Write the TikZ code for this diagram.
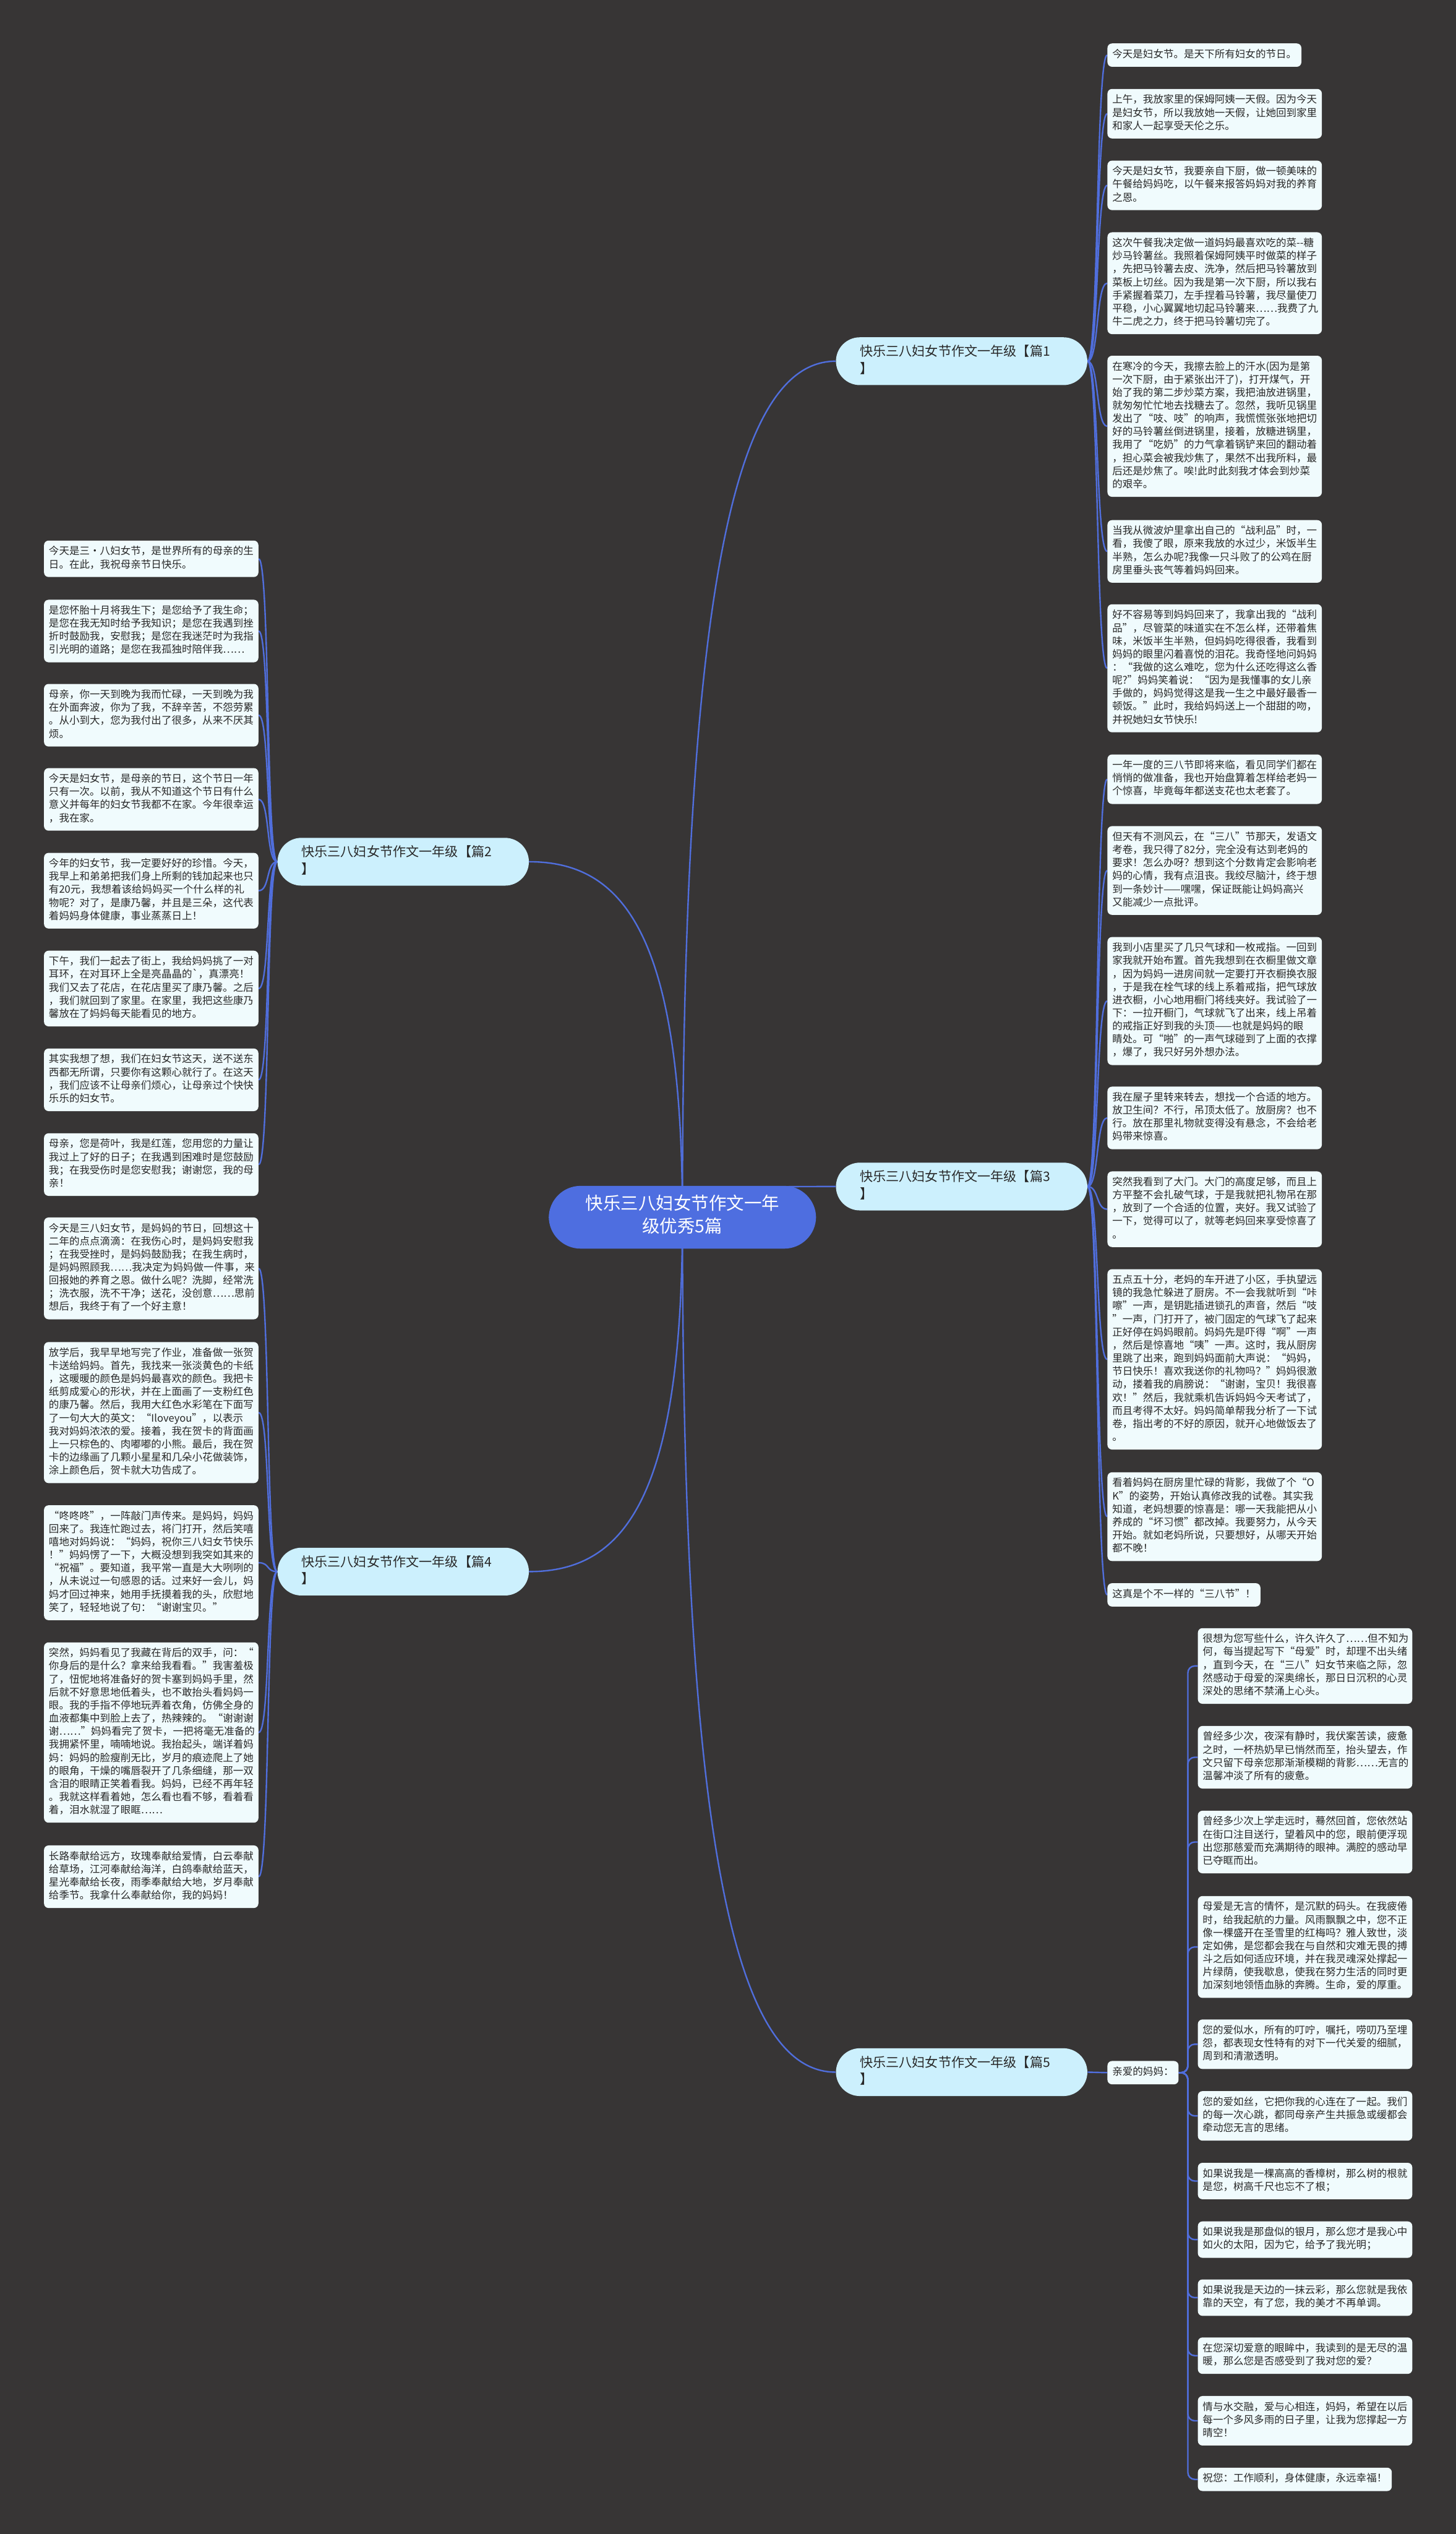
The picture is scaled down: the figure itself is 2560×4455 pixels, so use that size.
\documentclass[tikz,border=0pt]{standalone}
\usepackage{fontspec}
\usepackage{tikz}
\newfontfamily\cjk{Noto Sans CJK SC}

\definecolor{pagebg}{RGB}{55,53,53}
\definecolor{leafbg}{RGB}{240,251,253}
\definecolor{branchbg}{RGB}{204,240,253}
\definecolor{rootbg}{RGB}{78,110,224}
\definecolor{linkblue}{RGB}{80,110,220}
\definecolor{ink}{RGB}{40,40,40}

\newcommand{\leaffont}{\cjk\fontsize{9pt}{11.5pt}\selectfont}
\newcommand{\branchfont}{\cjk\fontsize{11.5pt}{15pt}\selectfont}
\newcommand{\rootfont}{\cjk\fontsize{15.5pt}{20pt}\selectfont}

\pgfdeclarelayer{back}
\pgfsetlayers{back,main}

\tikzset{
  leafbase/.style={fill=leafbg, rounded corners=4pt, anchor=north west,
    inner xsep=4.25pt, inner ysep=4.5pt, font=\leaffont, text=ink,
    execute at begin node=\strut, execute at end node=\strut},
  leaf/.style={leafbase, text width=180pt, align=left},
  tag/.style={leafbase},
  branch/.style={fill=branchbg, rounded corners=21pt, inner xsep=21pt, inner ysep=6pt,
    text width=179pt, align=left, font=\branchfont, text=ink,
    execute at begin node=\strut, execute at end node=\strut},
  root/.style={fill=rootbg, rounded corners=28pt, minimum width=235pt, inner ysep=8pt,
    align=center, font=\rootfont, text=white,
    execute at begin node=\strut, execute at end node=\strut},
  link/.style={draw=linkblue, line width=1.3pt}
}

\begin{document}
\begin{tikzpicture}[x=0.5pt, y=-0.5pt]
\useasboundingbox (0,0) rectangle (2560,4455);

% centre and the five branches
\node[root] (root) at (1200,2140) {快乐三八妇女节作文一年\\级优秀5篇};
\node[branch] (p1) at (1691,635) {快乐三八妇女节作文一年级【篇1\\】};
\node[branch] (p3) at (1691,2086) {快乐三八妇女节作文一年级【篇3\\】};
\node[branch] (p5) at (1691,3643) {快乐三八妇女节作文一年级【篇5\\】};
\node[branch] (p2) at (709,1515) {快乐三八妇女节作文一年级【篇2\\】};
\node[branch] (p4) at (709,2763) {快乐三八妇女节作文一年级【篇4\\】};

% 篇1
\node[tag] (l1a) at (1947,76) {今天是妇女节。是天下所有妇女的节日。};
\node[leaf] (l1b) at (1947,156) {上午，我放家里的保姆阿姨一天假。因为今天\\是妇女节，所以我放她一天假，让她回到家里\\和家人一起享受天伦之乐。};
\node[leaf] (l1c) at (1947,282) {今天是妇女节，我要亲自下厨，做一顿美味的\\午餐给妈妈吃，以午餐来报答妈妈对我的养育\\之恩。};
\node[leaf] (l1d) at (1947,408) {这次午餐我决定做一道妈妈最喜欢吃的菜--糖\\炒马铃薯丝。我照着保姆阿姨平时做菜的样子\\，先把马铃薯去皮、洗净，然后把马铃薯放到\\菜板上切丝。因为我是第一次下厨，所以我右\\手紧握着菜刀，左手捏着马铃薯，我尽量使刀\\平稳，小心翼翼地切起马铃薯来……我费了九\\牛二虎之力，终于把马铃薯切完了。};
\node[leaf] (l1e) at (1947,625) {在寒冷的今天，我擦去脸上的汗水(因为是第\\一次下厨，由于紧张出汗了)，打开煤气，开\\始了我的第二步炒菜方案，我把油放进锅里，\\就匆匆忙忙地去找糖去了。忽然，我听见锅里\\发出了“吱、吱”的响声，我慌慌张张地把切\\好的马铃薯丝倒进锅里，接着，放糖进锅里，\\我用了“吃奶”的力气拿着锅铲来回的翻动着\\，担心菜会被我炒焦了，果然不出我所料，最\\后还是炒焦了。唉!此时此刻我才体会到炒菜\\的艰辛。};
\node[leaf] (l1f) at (1947,914) {当我从微波炉里拿出自己的“战利品”时，一\\看，我傻了眼，原来我放的水过少，米饭半生\\半熟，怎么办呢?我像一只斗败了的公鸡在厨\\房里垂头丧气等着妈妈回来。};
\node[leaf] (l1g) at (1947,1062) {好不容易等到妈妈回来了，我拿出我的“战利\\品”，尽管菜的味道实在不怎么样，还带着焦\\味，米饭半生半熟，但妈妈吃得很香，我看到\\妈妈的眼里闪着喜悦的泪花。我奇怪地问妈妈\\：“我做的这么难吃，您为什么还吃得这么香\\呢?”妈妈笑着说：“因为是我懂事的女儿亲\\手做的，妈妈觉得这是我一生之中最好最香一\\顿饭。”此时，我给妈妈送上一个甜甜的吻，\\并祝她妇女节快乐!};

% 篇3
\node[leaf] (l3a) at (1947,1326) {一年一度的三八节即将来临，看见同学们都在\\悄悄的做准备，我也开始盘算着怎样给老妈一\\个惊喜，毕竟每年都送支花也太老套了。};
\node[leaf] (l3b) at (1947,1452) {但天有不测风云，在“三八”节那天，发语文\\考卷，我只得了82分，完全没有达到老妈的\\要求！怎么办呀？想到这个分数肯定会影响老\\妈的心情，我有点沮丧。我绞尽脑汁，终于想\\到一条妙计——嘿嘿，保证既能让妈妈高兴\\又能减少一点批评。};
\node[leaf] (l3c) at (1947,1647) {我到小店里买了几只气球和一枚戒指。一回到\\家我就开始布置。首先我想到在衣橱里做文章\\，因为妈妈一进房间就一定要打开衣橱换衣服\\，于是我在栓气球的线上系着戒指，把气球放\\进衣橱，小心地用橱门将线夹好。我试验了一\\下：一拉开橱门，气球就飞了出来，线上吊着\\的戒指正好到我的头顶——也就是妈妈的眼\\睛处。可“啪”的一声气球碰到了上面的衣撑\\，爆了，我只好另外想办法。};
\node[leaf] (l3d) at (1947,1910) {我在屋子里转来转去，想找一个合适的地方。\\放卫生间？不行，吊顶太低了。放厨房？也不\\行。放在那里礼物就变得没有悬念，不会给老\\妈带来惊喜。};
\node[leaf] (l3e) at (1947,2059) {突然我看到了大门。大门的高度足够，而且上\\方平整不会扎破气球，于是我就把礼物吊在那\\，放到了一个合适的位置，夹好。我又试验了\\一下，觉得可以了，就等老妈回来享受惊喜了\\。};
\node[leaf] (l3f) at (1947,2231) {五点五十分，老妈的车开进了小区，手执望远\\镜的我急忙躲进了厨房。不一会我就听到“咔\\嚓”一声，是钥匙插进锁孔的声音，然后“吱\\”一声，门打开了，被门固定的气球飞了起来\\正好停在妈妈眼前。妈妈先是吓得“啊”一声\\，然后是惊喜地“咦”一声。这时，我从厨房\\里跳了出来，跑到妈妈面前大声说：“妈妈，\\节日快乐！喜欢我送你的礼物吗？”妈妈很激\\动，搂着我的肩膀说：“谢谢，宝贝！我很喜\\欢！”然后，我就乘机告诉妈妈今天考试了，\\而且考得不太好。妈妈简单帮我分析了一下试\\卷，指出考的不好的原因，就开心地做饭去了\\。};
\node[leaf] (l3g) at (1947,2588) {看着妈妈在厨房里忙碌的背影，我做了个“O\\K”的姿势，开始认真修改我的试卷。其实我\\知道，老妈想要的惊喜是：哪一天我能把从小\\养成的“坏习惯”都改掉。我要努力，从今天\\开始。就如老妈所说，只要想好，从哪天开始\\都不晚！};
\node[tag] (l3h) at (1947,2783) {这真是个不一样的“三八节”！};

% 篇5
\node[tag] (mama) at (1947,3623) {亲爱的妈妈：};
\node[leaf] (l5a) at (2106,2862) {很想为您写些什么，许久许久了……但不知为\\何，每当提起写下“母爱”时，却理不出头绪\\，直到今天，在“三八”妇女节来临之际，忽\\然感动于母爱的深奥绵长，那日日沉积的心灵\\深处的思绪不禁涌上心头。};
\node[leaf] (l5b) at (2106,3034) {曾经多少次，夜深有静时，我伏案苦读，疲惫\\之时，一杯热奶早已悄然而至，抬头望去，作\\文只留下母亲您那渐渐模糊的背影……无言的\\温馨冲淡了所有的疲惫。};
\node[leaf] (l5c) at (2106,3183) {曾经多少次上学走远时，蓦然回首，您依然站\\在街口注目送行，望着风中的您，眼前便浮现\\出您那慈爱而充满期待的眼神。满腔的感动早\\已夺眶而出。};
\node[leaf] (l5d) at (2106,3333) {母爱是无言的情怀，是沉默的码头。在我疲倦\\时，给我起航的力量。风雨飘飘之中，您不正\\像一棵盛开在圣雪里的红梅吗？雅人致世，淡\\定如佛，是您都会我在与自然和灾难无畏的搏\\斗之后如何适应环境，并在我灵魂深处撑起一\\片绿荫，使我歇息，使我在努力生活的同时更\\加深刻地领悟血脉的奔腾。生命，爱的厚重。};
\node[leaf] (l5e) at (2106,3550) {您的爱似水，所有的叮咛，嘱托，唠叨乃至埋\\怨，都表现女性特有的对下一代关爱的细腻，\\周到和清澈透明。};
\node[leaf] (l5f) at (2106,3676) {您的爱如丝，它把你我的心连在了一起。我们\\的每一次心跳，都同母亲产生共振急或缓都会\\牵动您无言的思绪。};
\node[leaf] (l5g) at (2106,3802) {如果说我是一棵高高的香樟树，那么树的根就\\是您，树高千尺也忘不了根；};
\node[leaf] (l5h) at (2106,3905) {如果说我是那盘似的银月，那么您才是我心中\\如火的太阳，因为它，给予了我光明；};
\node[leaf] (l5i) at (2106,4007) {如果说我是天边的一抹云彩，那么您就是我依\\靠的天空，有了您，我的美才不再单调。};
\node[leaf] (l5j) at (2106,4109) {在您深切爱意的眼眸中，我读到的是无尽的温\\暖，那么您是否感受到了我对您的爱？};
\node[leaf] (l5k) at (2106,4212) {情与水交融，爱与心相连，妈妈，希望在以后\\每一个多风多雨的日子里，让我为您撑起一方\\晴空！};
\node[tag] (l5l) at (2106,4338) {祝您：工作顺利，身体健康，永远幸福！};

% 篇2
\node[leaf] (l2a) at (77,950) {今天是三·八妇女节，是世界所有的母亲的生\\日。在此，我祝母亲节日快乐。};
\node[leaf] (l2b) at (77,1054) {是您怀胎十月将我生下；是您给予了我生命；\\是您在我无知时给予我知识；是您在我遇到挫\\折时鼓励我，安慰我；是您在我迷茫时为我指\\引光明的道路；是您在我孤独时陪伴我……};
\node[leaf] (l2c) at (77,1202) {母亲，你一天到晚为我而忙碌，一天到晚为我\\在外面奔波，你为了我，不辞辛苦，不怨劳累\\。从小到大，您为我付出了很多，从来不厌其\\烦。};
\node[leaf] (l2d) at (77,1350) {今天是妇女节，是母亲的节日，这个节日一年\\只有一次。以前，我从不知道这个节日有什么\\意义并每年的妇女节我都不在家。今年很幸运\\，我在家。};
\node[leaf] (l2e) at (77,1499) {今年的妇女节，我一定要好好的珍惜。今天，\\我早上和弟弟把我们身上所剩的钱加起来也只\\有20元，我想着该给妈妈买一个什么样的礼\\物呢？对了，是康乃馨，并且是三朵，这代表\\着妈妈身体健康，事业蒸蒸日上！};
\node[leaf] (l2f) at (77,1671) {下午，我们一起去了街上，我给妈妈挑了一对\\耳环，在对耳环上全是亮晶晶的`，真漂亮！\\我们又去了花店，在花店里买了康乃馨。之后\\，我们就回到了家里。在家里，我把这些康乃\\馨放在了妈妈每天能看见的地方。};
\node[leaf] (l2g) at (77,1843) {其实我想了想，我们在妇女节这天，送不送东\\西都无所谓，只要你有这颗心就行了。在这天\\，我们应该不让母亲们烦心，让母亲过个快快\\乐乐的妇女节。};
\node[leaf] (l2h) at (77,1992) {母亲，您是荷叶，我是红莲，您用您的力量让\\我过上了好的日子；在我遇到困难时是您鼓励\\我；在我受伤时是您安慰我；谢谢您，我的母\\亲！};

% 篇4
\node[leaf] (l4a) at (77,2140) {今天是三八妇女节，是妈妈的节日，回想这十\\二年的点点滴滴：在我伤心时，是妈妈安慰我\\；在我受挫时，是妈妈鼓励我；在我生病时，\\是妈妈照顾我……我决定为妈妈做一件事，来\\回报她的养育之恩。做什么呢？洗脚，经常洗\\；洗衣服，洗不干净；送花，没创意……思前\\想后，我终于有了一个好主意！};
\node[leaf] (l4b) at (77,2359) {放学后，我早早地写完了作业，准备做一张贺\\卡送给妈妈。首先，我找来一张淡黄色的卡纸\\，这暖暖的颜色是妈妈最喜欢的颜色。我把卡\\纸剪成爱心的形状，并在上面画了一支粉红色\\的康乃馨。然后，我用大红色水彩笔在下面写\\了一句大大的英文：“Iloveyou”，以表示\\我对妈妈浓浓的爱。接着，我在贺卡的背面画\\上一只棕色的、肉嘟嘟的小熊。最后，我在贺\\卡的边缘画了几颗小星星和几朵小花做装饰，\\涂上颜色后，贺卡就大功告成了。};
\node[leaf] (l4c) at (77,2646) {“咚咚咚”，一阵敲门声传来。是妈妈，妈妈\\回来了。我连忙跑过去，将门打开，然后笑嘻\\嘻地对妈妈说：“妈妈，祝你三八妇女节快乐\\！”妈妈愣了一下，大概没想到我突如其来的\\“祝福”。要知道，我平常一直是大大咧咧的\\，从未说过一句感恩的话。过来好一会儿，妈\\妈才回过神来，她用手抚摸着我的头，欣慰地\\笑了，轻轻地说了句：“谢谢宝贝。”};
\node[leaf] (l4d) at (77,2887) {突然，妈妈看见了我藏在背后的双手，问：“\\你身后的是什么？拿来给我看看。”我害羞极\\了，忸怩地将准备好的贺卡塞到妈妈手里，然\\后就不好意思地低着头，也不敢抬头看妈妈一\\眼。我的手指不停地玩弄着衣角，仿佛全身的\\血液都集中到脸上去了，热辣辣的。“谢谢谢\\谢……”妈妈看完了贺卡，一把将毫无准备的\\我拥紧怀里，喃喃地说。我抬起头，端详着妈\\妈：妈妈的脸瘦削无比，岁月的痕迹爬上了她\\的眼角，干燥的嘴唇裂开了几条细缝，那一双\\含泪的眼睛正笑着看我。妈妈，已经不再年轻\\。我就这样看着她，怎么看也看不够，看着看\\着，泪水就湿了眼眶……};
\node[leaf] (l4e) at (77,3244) {长路奉献给远方，玫瑰奉献给爱情，白云奉献\\给草场，江河奉献给海洋，白鸽奉献给蓝天，\\星光奉献给长夜，雨季奉献给大地，岁月奉献\\给季节。我拿什么奉献给你，我的妈妈！};

\begin{pgfonlayer}{back}
  \fill[pagebg] (0,0) rectangle (2560,4455);
  % centre to branches
  \draw[link] (root.center) .. controls (1200,1000) and (1300,635) .. (p1.west);
  \draw[link] (root.center) .. controls (1200,2086) and (1300,2086) .. (p3.west);
  \draw[link] (root.center) .. controls (1200,3280) and (1300,3643) .. (p5.west);
  \draw[link] (root.center) .. controls (1200,1650) and (1100,1515) .. (p2.east);
  \draw[link] (root.center) .. controls (1200,2630) and (1100,2763) .. (p4.east);
  % branches to leaves
  \foreach \n in {l1a,l1b,l1c,l1d,l1e,l1f,l1g}
    \draw[link] (p1.east) .. controls +(20,0) and +(-20,0) .. (\n.west);
  \foreach \n in {l3a,l3b,l3c,l3d,l3e,l3f,l3g,l3h}
    \draw[link] (p3.east) .. controls +(20,0) and +(-20,0) .. (\n.west);
  \foreach \n in {l2a,l2b,l2c,l2d,l2e,l2f,l2g,l2h}
    \draw[link] (p2.west) .. controls +(-20,0) and +(20,0) .. (\n.east);
  \foreach \n in {l4a,l4b,l4c,l4d,l4e}
    \draw[link] (p4.west) .. controls +(-20,0) and +(20,0) .. (\n.east);
  \draw[link] (p5.east) -- (mama.west);
  \foreach \n in {l5a,l5b,l5c,l5d,l5e,l5f,l5g,l5h,l5i,l5j,l5k,l5l}
    \draw[link, rounded corners=6pt] (mama.east) -- ++(16,0) |- (\n.west);
\end{pgfonlayer}
\end{tikzpicture}
\end{document}
